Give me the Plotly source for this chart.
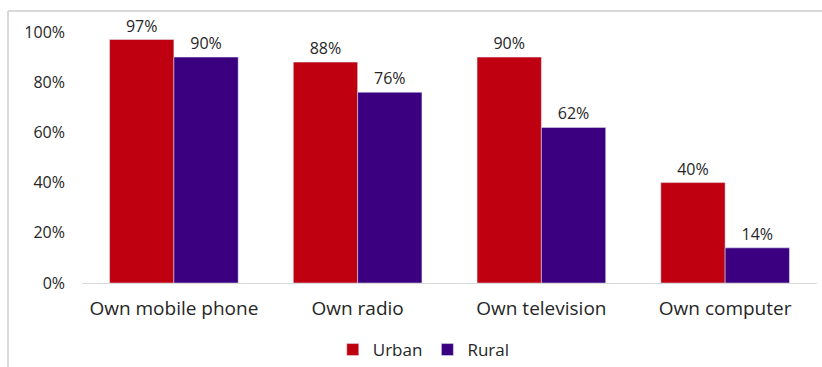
import plotly.graph_objects as go

categories = ["Own mobile phone", "Own radio", "Own television", "Own computer"]
urban = [97, 88, 90, 40]
rural = [90, 76, 62, 14]
series_names = ["Urban", "Rural"]
tick_vals = [0, 20, 40, 60, 80, 100]
tick_text = [f"{v}%" for v in tick_vals]
urban_text = [f"{v}%" for v in urban]
rural_text = [f"{v}%" for v in rural]

W, H = 822, 367
L, R, T, B = 82, 5, 32, 84
pw = W - L - R
ph = H - T - B

def px_x(x):
    return (x - L) / pw

def px_y(y):
    return (H - B - y) / ph

font_family = "'Open Sans', Lato, sans-serif"
text_color = "#262626"

fig = go.Figure()
fig.add_trace(go.Bar(x=categories, y=urban, name=series_names[0], marker_color="#BE0010",
                     text=urban_text, texttemplate="%{text}", textposition="outside",
                     cliponaxis=False,
                     textfont=dict(size=16, color=text_color, family=font_family)))
fig.add_trace(go.Bar(x=categories, y=rural, name=series_names[1], marker_color="#3A0080",
                     text=rural_text, texttemplate="%{text}", textposition="outside",
                     cliponaxis=False,
                     textfont=dict(size=16, color=text_color, family=font_family)))

fig.update_layout(
    width=W, height=H,
    margin=dict(l=L, r=R, t=T, b=B, autoexpand=False),
    barmode="group", bargap=0.30, bargroupgap=0,
    plot_bgcolor="white", paper_bgcolor="white",
    font=dict(family=font_family, size=16, color=text_color),
    showlegend=True,
    legend=dict(orientation="h", x=0.465, xanchor="center", y=px_y(350), yanchor="middle",
                font=dict(size=17, color=text_color), itemwidth=30, traceorder="normal"),
    xaxis=dict(showline=True, linecolor="#D9D9D9", linewidth=1, ticks="",
               ticklabelstandoff=8,
               tickfont=dict(size=19, color=text_color)),
    yaxis=dict(range=[0, 100], tickmode="array", tickvals=tick_vals, ticktext=tick_text,
               showgrid=False, zeroline=False, showline=False, ticklabelstandoff=16,
               tickfont=dict(size=16, color=text_color)),
    shapes=[
        dict(type="line", xref="paper", yref="paper", x0=px_x(8), x1=px_x(8),
             y0=px_y(367), y1=px_y(11), line=dict(color="#D9D9D9", width=2)),
        dict(type="line", xref="paper", yref="paper", x0=px_x(8), x1=px_x(822),
             y0=px_y(11), y1=px_y(11), line=dict(color="#D9D9D9", width=2)),
    ],
)

fig.write_html("out.html", config={"displayModeBar": False},
               post_script="document.body.style.margin='0';document.body.style.padding='0';")
